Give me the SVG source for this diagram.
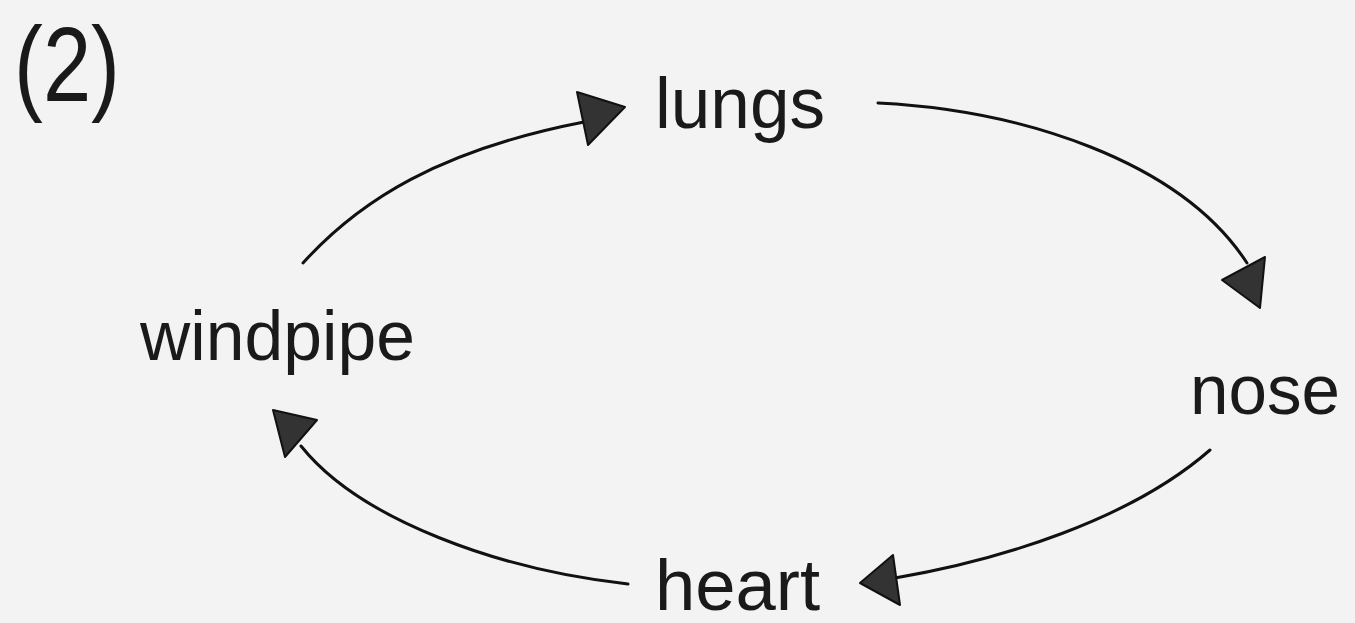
<svg xmlns="http://www.w3.org/2000/svg" width="1355" height="623" viewBox="0 0 1355 623">
<style>
text{font-family:"Liberation Sans",Arial,sans-serif;fill:#1a1a1a}
.c{fill:none;stroke:#111;stroke-width:3;stroke-linecap:round}
.h{fill:#333;stroke:#111;stroke-width:2;stroke-linejoin:round}
</style>
<rect width="1355" height="623" fill="#f3f3f3"/>
<text x="14" y="101" font-size="106" textLength="106" lengthAdjust="spacingAndGlyphs">(2)</text>
<g id="lungs"><text x="655" y="128" font-size="72" textLength="170" lengthAdjust="spacingAndGlyphs">lungs</text></g>
<g id="nose"><text x="1190" y="414" font-size="70" textLength="150" lengthAdjust="spacingAndGlyphs">nose</text></g>
<g id="heart"><text x="655" y="610" font-size="72" textLength="165" lengthAdjust="spacingAndGlyphs">heart</text></g>
<g id="windpipe"><text x="140" y="360" font-size="70" textLength="275" lengthAdjust="spacingAndGlyphs">windpipe</text></g>
<g id="connectors">
<path class="c" d="M303 263 C360 200 440 150 584 122"/>
<polygon class="h" points="577,92 625,107 588,145"/>
<path class="c" d="M878 103 C1020 110 1180 160 1247 263"/>
<polygon class="h" points="1222,280 1265,257 1260,308"/>
<path class="c" d="M1210 450 C1130 520 1000 560 895 578"/>
<polygon class="h" points="860,583 893,555 900,605"/>
<path class="c" d="M628 584 C500 570 360 520 301 446"/>
<polygon class="h" points="273,410 317,420 285,457"/>
</g>
</svg>
